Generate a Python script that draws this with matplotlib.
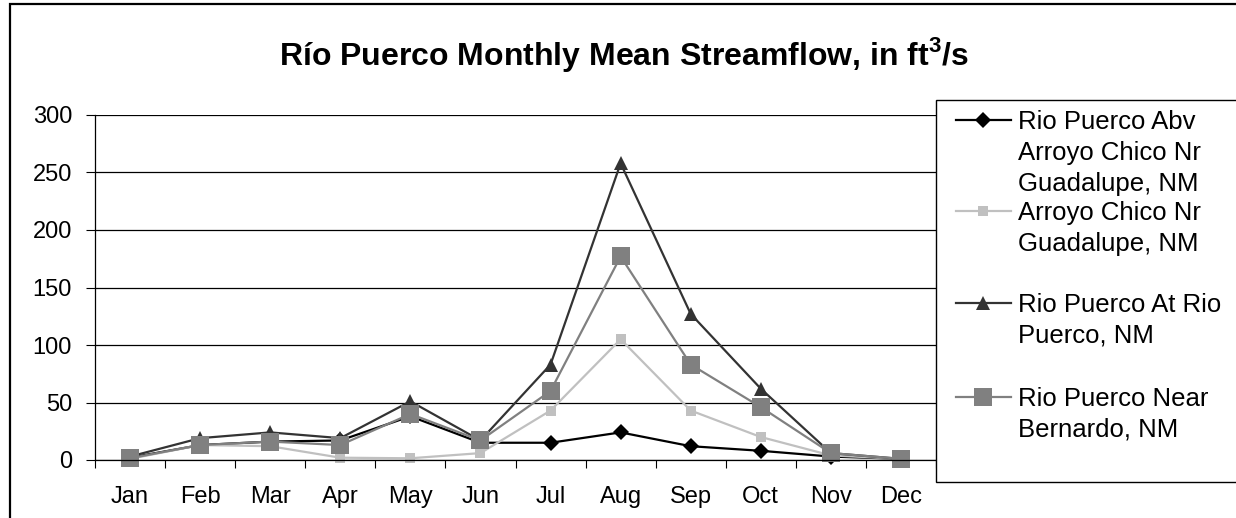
import matplotlib
matplotlib.use("Agg")
import matplotlib.pyplot as plt
from matplotlib.lines import Line2D
from matplotlib.patches import Rectangle

plt.rcParams['font.family'] = ['Liberation Sans', 'DejaVu Sans']
plt.rcParams['mathtext.fontset'] = 'custom'
plt.rcParams['mathtext.rm'] = 'Liberation Sans'
plt.rcParams['mathtext.bf'] = 'Liberation Sans:bold'

# data (ft3/s)
months = ['Jan', 'Feb', 'Mar', 'Apr', 'May', 'Jun',
          'Jul', 'Aug', 'Sep', 'Oct', 'Nov', 'Dec']
abv_arroyo = [2, 13, 16, 17, 38, 15, 15, 24, 12, 8, 3, 1]
arroyo_chico = [1, 13, 12, 2, 1.5, 6, 43, 105, 43, 20, 4, 1]
at_rio_puerco = [3, 19, 24, 19, 51, 17, 83, 258, 127, 62, 6, 1]
near_bernardo = [1.5, 13, 16, 13, 40, 17, 60, 177, 83, 46, 6, 1]

labels = ['Rio Puerco Abv\nArroyo Chico Nr\nGuadalupe, NM',
          'Arroyo Chico Nr\nGuadalupe, NM',
          'Rio Puerco At Rio\nPuerco, NM',
          'Rio Puerco Near\nBernardo, NM']
y_ticks = [0, 50, 100, 150, 200, 250, 300]

W, H = 1236, 518


def fx(x):
    return x / W


def fy(y):
    return 1 - y / H


styles = [
    dict(color='#000000', marker='D', markersize=8.5),
    dict(color='#C0C0C0', marker='s', markersize=6.5),
    dict(color='#333333', marker='^', markersize=10.5),
    dict(color='#808080', marker='s', markersize=13),
]
series = [abv_arroyo, arroyo_chico, at_rio_puerco, near_bernardo]

fig = plt.figure(figsize=(W / 100, H / 100), dpi=100)
ax = fig.add_axes([fx(95), fy(460), fx(936) - fx(95), fy(115) - fy(460)])

x = list(range(len(months)))
for vals, st in zip(series, styles):
    ax.plot(x, vals, linewidth=1.6, markeredgewidth=0, clip_on=False, **st)

ax.set_xlim(-0.5, len(months) - 0.5)
ax.set_ylim(0, 300)
ax.set_yticks(y_ticks)
ax.set_xticks(x)
ax.set_xticklabels(months)
ax.set_xticks([i - 0.5 for i in range(len(months) + 1)], minor=True)
ax.tick_params(axis='x', which='major', length=0, pad=19, labelsize=17)
ax.tick_params(axis='x', which='minor', length=6, width=0.8, direction='out')
ax.tick_params(axis='y', length=6.5, width=0.8, direction='out', pad=10, labelsize=17)
ax.yaxis.grid(True, color='black', linewidth=0.9)
ax.set_axisbelow(True)
for side in ['top', 'right']:
    ax.spines[side].set_visible(False)
for side in ['left', 'bottom']:
    ax.spines[side].set_linewidth(0.9)

# title
fig.text(fx(624), fy(65), r'Río Puerco Monthly Mean Streamflow, in ft$^{\mathbf{3}}$/s',
         ha='center', va='baseline', fontsize=23, fontweight='bold')

# outer chart frame
fig.add_artist(Rectangle((fx(10), fy(530)), fx(1240) - fx(10), fy(4) - fy(530),
                         transform=fig.transFigure, fill=False, edgecolor='black',
                         linewidth=1.6, clip_on=False))

# legend box (Excel style, marker on first text line)
fig.add_artist(Rectangle((fx(936), fy(482)), fx(1245) - fx(936), fy(100) - fy(482),
                         transform=fig.transFigure, facecolor='white', edgecolor='black',
                         linewidth=1.0, clip_on=False))
first_rows = [120, 211, 303, 397]
line_gap = 31
for lab, st, y0 in zip(labels, styles, first_rows):
    fig.add_artist(Line2D([fx(956), fx(1011)], [fy(y0), fy(y0)], transform=fig.transFigure,
                          linewidth=1.6, color=st['color']))
    fig.add_artist(Line2D([fx(983)], [fy(y0)], transform=fig.transFigure, linestyle='none',
                          marker=st['marker'], markersize=st['markersize'],
                          color=st['color'], markeredgewidth=0))
    for k, row in enumerate(lab.split('\n')):
        fig.text(fx(1018), fy(y0 + k * line_gap + 9), row, ha='left', va='baseline',
                 fontsize=18.5)

fig.savefig('out.png', dpi=100)
